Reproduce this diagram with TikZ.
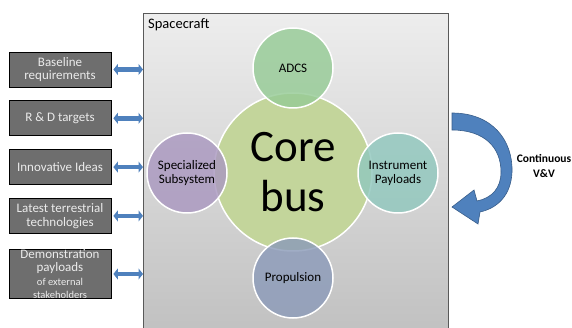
\documentclass[tikz,border=0pt]{standalone}
\usepackage{fontspec}
\setmainfont{Carlito}
\usetikzlibrary{
  arrows.meta,
  positioning
}
\definecolor{busgreen}{RGB}{195,213,155}
\definecolor{adcsgreen}{RGB}{150,203,150}
\definecolor{specpurple}{RGB}{170,152,192}
\definecolor{instrteal}{RGB}{145,200,190}
\definecolor{propblue}{RGB}{140,155,185}
\definecolor{inputgray}{RGB}{110,110,110}
\definecolor{arrowblue}{RGB}{79,129,189}
\definecolor{arrowedge}{RGB}{56,93,138}

\begin{document}
\begin{tikzpicture}[x=1pt,y=-1pt,
      input/.style={
         rectangle,
         draw=black,
         line width=0.8pt,
         fill=inputgray,
         text=black!8,
         minimum width=102pt,
         minimum height=35pt,
         inner sep=0pt,
         align=center,
         font=\fontsize{13}{13.5}\selectfont
      },
      module/.style={
         circle,
         draw=white,
         line width=1.5pt,
         minimum size=80pt,
         inner sep=0pt,
         fill opacity=0.82,
         text opacity=1,
         align=center,
         font=\fontsize{13}{14}\selectfont
      },
      corebus/.style={
         circle,
         draw=white,
         line width=1.5pt,
         fill=busgreen,
         minimum size=158pt,
         inner sep=0pt,
         align=center,
         font=\fontsize{45}{50}\selectfont
      },
      link/.style={
         line width=4.5pt,
         draw=arrowblue,
         {Triangle[length=4.5pt,width=11pt]}-{Triangle[length=4.5pt,width=11pt]},
         shorten <=2pt
      }
    ]
    \path[use as bounding box, clip] (0,0) rectangle (572,328);
    % spacecraft frame
    \node (sc) [rectangle, draw=black!65, line width=1.2pt,
      top color=black!7, bottom color=black!25,
      minimum width=305pt, minimum height=330pt, anchor=north west] at (143,13) {};
    \node (sclabel) [anchor=north west, inner sep=0pt,
      font=\fontsize{14.5}{16}\selectfont] at (148,18) {Spacecraft};
    % core bus and subsystems
    \node (bus) [corebus] at (293,172) {Core\\bus};
    \node (adcs) [module, fill=adcsgreen] at (293,68) {ADCS};
    \node (prop) [module, fill=propblue] at (293,278) {Propulsion};
    \node (spec) [module, fill=specpurple] at (187,173) {Specialized\\Subsystem};
    \node (instr) [module, fill=instrteal] at (398,173) {Instrument\\Payloads};
    % inputs
    \node (base) [input] at (60,69.5) {Baseline\\requirements};
    \node (rd) [input, below=13pt of base] {R \& D targets};
    \node (ideas) [input, below=13pt of rd] {Innovative Ideas};
    \node (tech) [input, below=13pt of ideas] {Latest terrestrial\\technologies};
    \node (demo) [input, below=15pt of tech, minimum height=47pt]
      {Demonstration\\payloads\\{\fontsize{10.5}{11}\selectfont of external}\\{\fontsize{10.5}{11}\selectfont stakeholders}};
    \foreach \src in {base,rd,ideas,tech,demo}
      \draw[link] (\src.east) -- (\src.east -| sc.west);
    % continuous V&V loop
    \filldraw[fill=arrowblue, draw=arrowedge, line width=0.6pt]
      (452,113) .. controls (492,113) and (513,140) .. (512,172)
      .. controls (511,195) and (498,208) .. (480,212)
      -- (478,224) -- (452,207) -- (474,190) -- (477,201)
      .. controls (492,198) and (501,188) .. (501,172)
      .. controls (501,148) and (485,130) .. (452,130) -- cycle;
    \node (vv) [font=\bfseries\fontsize{11.5}{15}\selectfont, align=center]
      at (544,166) {Continuous\\V\&V};
\end{tikzpicture}
\end{document}
